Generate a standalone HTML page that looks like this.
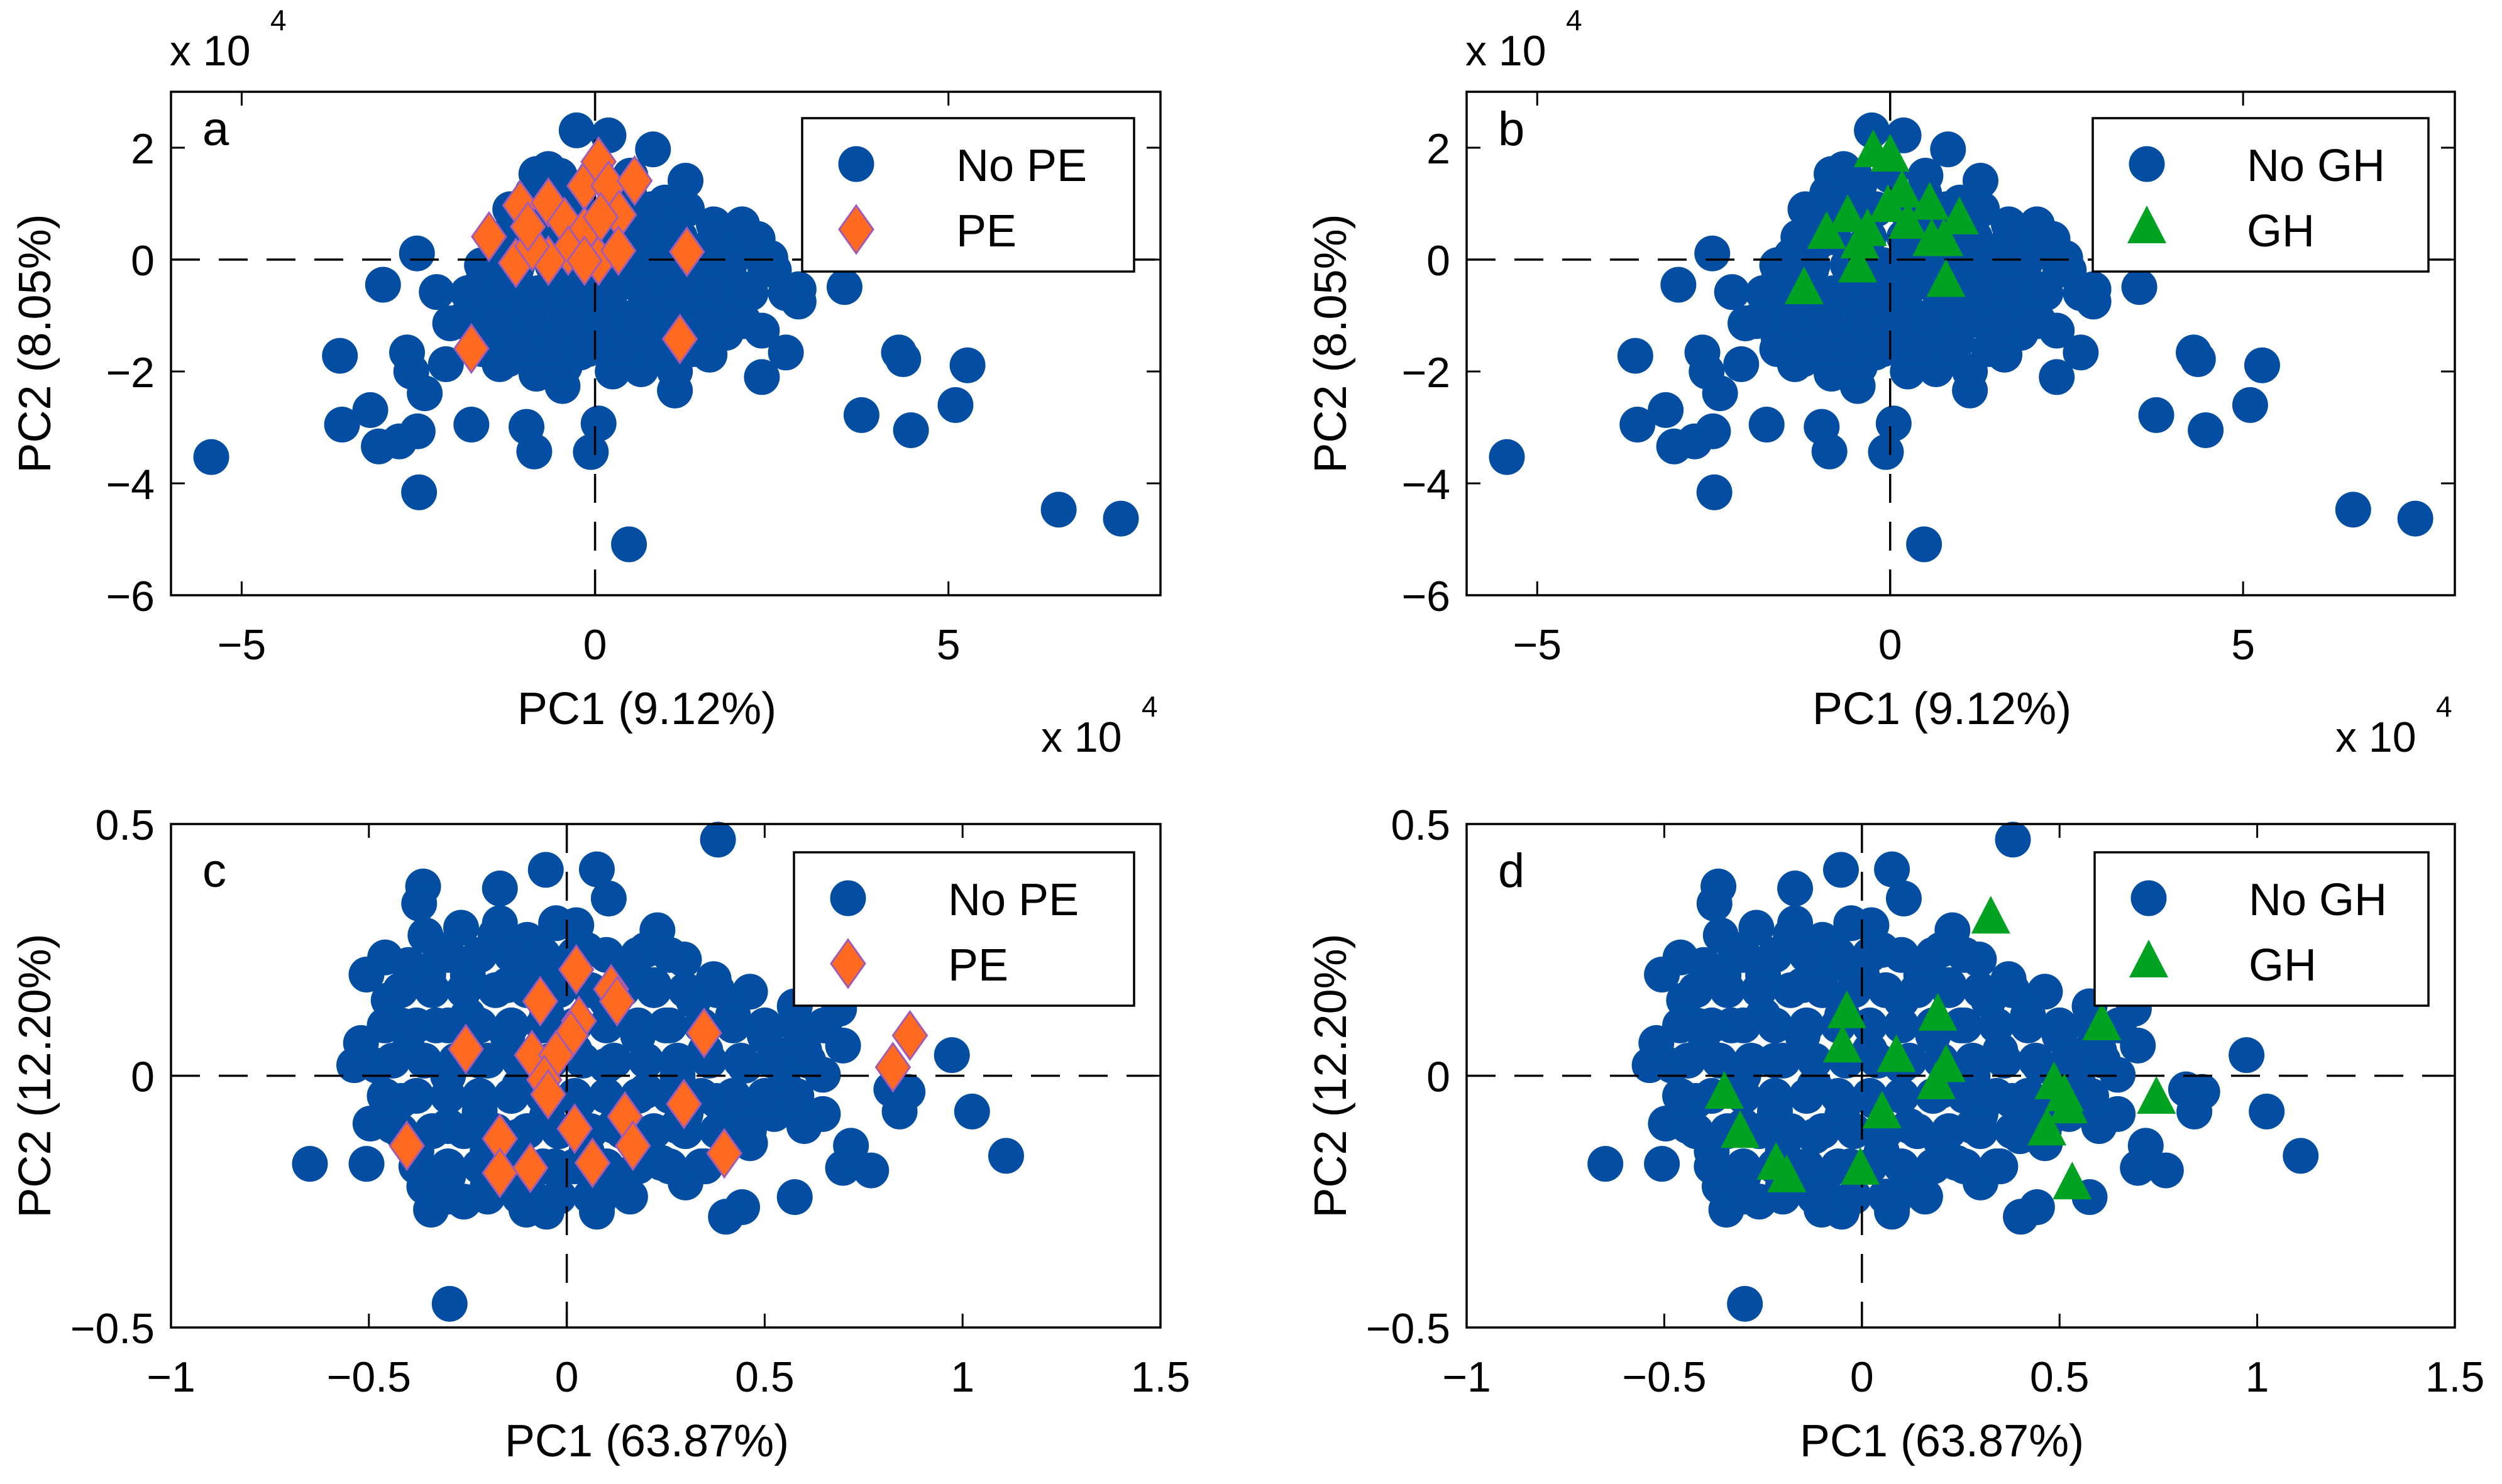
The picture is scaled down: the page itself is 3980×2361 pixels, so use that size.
<!DOCTYPE html>
<html><head><meta charset="utf-8">
<style>
html,body{margin:0;padding:0;background:#fff;}
svg{display:block;}
text{font-family:"Liberation Sans",sans-serif;fill:#000;}
</style></head>
<body>
<svg id="fig" width="3980" height="2361" viewBox="0 0 3980 2361" xmlns="http://www.w3.org/2000/svg"></svg>
<script>
// ---- data ----
const topBlueX = [-5.43,-3.61,-3.58,-3.18,-3.06,-2.77,-2.51,-2.49,-2.41,-2.66,-2.60,-2.52,-3.0,-2.24,-2.11,-1.75,-2.05,-1.75,-0.97,-0.86,0.05,-0.06,0.48,-0.46,-0.83,-1.23,-0.83,-0.26,0.19,0.82,1.28,0.99,1.68,2.08,2.3,2.48,2.88,2.88,3.53,2.7,2.36,2.36,1.85,1.62,1.13,1.13,0.65,0.25,-1.35,-1.4,3.77,4.3,4.36,4.47,5.1,5.27,6.56,7.44,1.16,1.5,0.7,-0.43,-1.0,-1.58,0.25,-0.32,-0.55,0.25,0.94,1.85,1.96,-1.0,0.48,0.94,-0.89,0.48,-1.12,-0.66,-0.21,0.02,0.48,1.28,1.51,-0.43,-1.12,-1.58,-0.21,0.71,1.62,1.05,0.25,-1.35,-0.89,-0.43,0.02,-1.58,-1.12,-0.43,1.51,0.25,2.08,2.19,2.53,0.71,0.94,-0.55,-1.46,0.48,-0.66,-0.43,0.25,0.71,1.05,-0.21,
 -1.2,-0.7,-0.2,0.3,0.8,1.3, -1.3,-0.8,-0.3,0.2,0.7,1.2,1.7,2.2, -1.6,-1.1,-0.6,-0.1,0.4,0.9,1.4,1.9,2.4, -1.8,-1.3,-0.8,-0.3,0.2,0.7,1.2,1.7,2.2,2.7, -1.9,-1.4,-0.9,-0.4,0.1,0.6,1.1,1.6,2.1, -1.6,-1.1,-0.6,-0.1,0.4,0.9,1.4, -0.5,0.0,0.5];
const topBlueY = [-3.53,-1.72,-2.95,-2.69,-3.34,-3.25,-3.07,-4.16,-2.39,-1.66,-2.0,0.11,-0.45,-0.58,-1.87,-2.95,-1.14,-0.66,-2.99,-3.43,-2.93,-3.44,-5.09,-2.26,-2.04,-1.78,1.53,2.31,2.22,1.97,1.41,1.02,0.63,0.63,0.37,0.03,-0.53,-0.75,-0.49,-1.66,-2.1,-1.27,-1.31,-1.7,-2.34,-2.0,-1.96,-2.0,-1.87,0.07,-2.78,-1.66,-1.78,-3.05,-2.6,-1.89,-4.47,-4.63,-0.45,-0.71,-0.97,-0.88,-0.97,-0.88,-0.53,-0.19,-1.4,-1.57,-1.4,-0.36,-0.88,0.33,0.59,0.33,1.19,1.19,-0.53,-0.71,-1.05,-0.88,-1.05,-1.05,-0.19,0.16,-0.19,-1.4,-1.66,-0.02,0.16,0.67,0.33,-1.22,-1.57,-1.91,-1.4,-0.36,0.67,0.84,-1.31,-0.19,0.16,-0.53,-0.19,-0.53,-0.71,-0.36,-0.79,-1.57,1.62,1.36,0.84,0.84,-0.02,-0.53,
 0.9,0.9,0.9,0.9,0.9,0.9, 0.4,0.4,0.4,0.4,0.4,0.4,0.4,0.4, -0.1,-0.1,-0.1,-0.1,-0.1,-0.1,-0.1,-0.1,-0.1, -0.6,-0.6,-0.6,-0.6,-0.6,-0.6,-0.6,-0.6,-0.6,-0.6, -1.1,-1.1,-1.1,-1.1,-1.1,-1.1,-1.1,-1.1,-1.1, -1.6,-1.6,-1.6,-1.6,-1.6,-1.6,-1.6, 1.5,1.5,1.5];
const peTopX = [-1.5,-1.06,-1.12,-0.66,-0.43,-0.15,0.05,0.19,0.56,0.34,-0.15,-0.38,-0.66,-0.89,0.05,0.33,-0.15,1.3,1.2,-1.75,-0.95,0.08];
const peTopY = [0.41,0.97,-0.06,1.02,0.67,1.32,1.75,1.32,1.41,0.8,0.5,0.16,-0.02,0.24,-0.02,0.16,-0.02,0.14,-1.42,-1.59,0.59,0.76];
const ghTopX = [-0.24,0.0,0.17,-0.03,0.56,0.98,-0.6,-0.9,-0.32,-0.43,0.25,0.59,0.76,-0.46,0.79,-1.22];
const ghTopY = [1.9,1.82,1.18,0.92,0.96,0.7,0.74,0.44,0.49,0.27,0.62,0.31,0.31,-0.16,-0.42,-0.55];
const botBlueX = [-0.649,-0.506,-0.296,0.382,-0.053,0.076,0.106,-0.169,-0.363,-0.373,-0.357,-0.267,-0.169,-0.027,0.024,0.229,0.296,0.371,0.463,0.576,0.688,0.698,0.555,0.647,0.61,0.973,0.82,0.861,0.841,1.024,1.11,0.718,0.698,0.769,0.576,0.443,0.402,0.3,0.076,-0.051,-0.102,-0.343,0.127,0.239,-0.496,-0.537,-0.52,-0.506,-0.459,-0.414,0.463,0.524,0.647,0.402,0.3,
 -0.45,-0.4,-0.42,-0.38,-0.35,-0.33,-0.3,-0.3,-0.3,-0.25,-0.25,-0.22,-0.22,-0.2,-0.2,-0.15,-0.15,-0.12,-0.12,-0.1,-0.08,-0.05,-0.05,-0.03,0.0,0.02,0.03,0.05,0.05,0.1,0.1,0.12,0.12,0.15,0.18,0.2,0.2,0.22,0.25,0.28,0.28,0.3,0.32,0.35,0.38,0.4,0.42,0.45,0.48,0.5,0.55,0.6,-0.48,-0.44,-0.36,-0.26,-0.18,-0.1,0.08,0.2,0.35,0.6,0.65,-0.4,-0.32,
 -0.42,-0.34,-0.26,-0.18,-0.1,-0.02,0.06,0.14,0.22,0.3,0.38,
 -0.46,-0.38,-0.3,-0.22,-0.14,-0.06,0.02,0.1,0.18,0.26,0.34,0.42,0.5,0.58,
 -0.44,-0.36,-0.28,-0.2,-0.12,-0.04,0.04,0.12,0.2,0.28,0.36,0.44,0.52,
 -0.46,-0.38,-0.3,-0.22,-0.14,-0.06,0.02,0.1,0.18,0.26,0.34,0.42,0.5,0.58,
 -0.42,-0.34,-0.26,-0.18,-0.1,-0.02,0.06,0.14,0.22,0.3,0.38,0.46,
 -0.38,-0.3,-0.22,-0.14,-0.06,0.02,0.1,0.18,0.26,0.34,
 -0.3,-0.22,-0.14,-0.06,0.02,0.1,0.18,0.26,
 -0.3,-0.2,-0.12,-0.02,0.06,0.16];
const botBlueY = [-0.175,-0.175,-0.453,0.469,0.409,0.41,0.352,0.372,0.376,0.342,0.279,0.294,0.303,0.303,0.299,0.289,0.231,0.192,0.167,0.138,0.133,0.06,0.041,0.002,0.03,0.041,-0.027,-0.032,-0.071,-0.071,-0.159,-0.139,-0.183,-0.188,-0.241,-0.261,-0.28,-0.212,-0.27,-0.27,-0.266,-0.266,-0.212,-0.173,-0.095,0.021,0.065,0.201,0.235,0.099,-0.134,-0.076,-0.076,-0.076,-0.076,
 0.15,0.05,-0.05,-0.15,0.2,0.1,0.0,-0.1,-0.2,0.2,0.12,0.03,-0.07,-0.15,-0.22,0.18,0.08,-0.02,-0.12,-0.22,0.22,0.12,-0.08,-0.18,0.2,0.05,-0.05,-0.15,0.25,0.15,0.02,-0.1,-0.2,0.2,0.08,-0.03,-0.13,0.18,0.1,0.0,-0.1,-0.2,0.15,0.05,-0.05,-0.12,0.12,0.02,-0.08,0.08,-0.02,0.05,0.02,-0.1,-0.22,-0.25,0.28,0.27,-0.25,0.25,-0.18,-0.1,0.1,0.22,0.25,
 0.17,0.17,0.17,0.17,0.17,0.17,0.17,0.17,0.17,0.17,0.17,
 0.1,0.1,0.1,0.1,0.1,0.1,0.1,0.1,0.1,0.1,0.1,0.1,0.1,0.1,
 0.03,0.03,0.03,0.03,0.03,0.03,0.03,0.03,0.03,0.03,0.03,0.03,0.03,
 -0.04,-0.04,-0.04,-0.04,-0.04,-0.04,-0.04,-0.04,-0.04,-0.04,-0.04,-0.04,-0.04,-0.04,
 -0.11,-0.11,-0.11,-0.11,-0.11,-0.11,-0.11,-0.11,-0.11,-0.11,-0.11,-0.11,
 -0.18,-0.18,-0.18,-0.18,-0.18,-0.18,-0.18,-0.18,-0.18,-0.18,
 0.24,0.24,0.24,0.24,0.24,0.24,0.24,0.24,
 -0.24,-0.24,-0.24,-0.24,-0.24,-0.24];
const peBotX = [0.024,-0.067,0.112,0.127,0.031,0.01,0.347,-0.255,-0.088,-0.027,-0.057,-0.047,0.867,0.824,0.296,0.147,0.02,0.167,-0.169,-0.404,-0.169,-0.092,0.065,0.398];
const peBotY = [0.211,0.148,0.172,0.148,0.109,0.08,0.085,0.053,0.041,0.041,-0.008,-0.037,0.08,0.017,-0.056,-0.081,-0.105,-0.139,-0.125,-0.139,-0.193,-0.183,-0.173,-0.154];
const ghBotX = [0.326,-0.038,0.192,0.607,-0.049,0.087,0.213,0.188,0.486,0.512,0.522,0.745,-0.348,-0.308,0.051,0.468,-0.217,-0.19,-0.004,0.532];
const ghBotY = [0.31,0.122,0.117,0.098,0.054,0.035,0.015,-0.019,-0.019,-0.043,-0.067,-0.048,-0.038,-0.116,-0.077,-0.111,-0.179,-0.204,-0.189,-0.218];
const topXTicks = [-5,0,5];
const topYTicks = [-6,-4,-2,0,2];
const botXTicks = [-1,-0.5,0,0.5,1,1.5];
const botYTicks = [-0.5,0,0.5];

const NS = "http://www.w3.org/2000/svg";
const svg = document.getElementById('fig');
const BLUE = "#034ea2", ORANGE = "#ff6a21", EDGE = "#a15ab5", GREEN = "#00a321";
function mk(tag, attrs, parent){ const e=document.createElementNS(NS,tag); for(const k in attrs) e.setAttribute(k,attrs[k]); (parent||svg).appendChild(e); return e; }
function fmt(v){ const s=String(v); return v<0? "\u2212"+s.slice(1) : s; }
function dot(g,cx,cy){ const c=mk('ellipse',{cx:cx,cy:cy,rx:28.5,ry:28.5,fill:BLUE},g);
 
  return c; }
function diamond(g,cx,cy){ const p=mk('polygon',{points:`${cx},${cy-38} ${cx+27},${cy} ${cx},${cy+38} ${cx-27},${cy}`,fill:ORANGE,stroke:EDGE,'stroke-width':3},g);
 
  return p; }
function tri(g,cx,cy){ const p=mk('polygon',{points:`${cx},${cy-38} ${cx+31},${cy+22} ${cx-31},${cy+22}`,fill:GREEN},g);
 
  return p; }

function panel(o){
 const g=mk('g',{});  
 const sx=v=>o.L+(v-o.xmin)/(o.xmax-o.xmin)*(o.R-o.L);
 const sy=v=>o.B-(v-o.ymin)/(o.ymax-o.ymin)*(o.B-o.T);
 const bg=mk('g',{},g);  
 for(let i=0;i<o.bx.length;i++) dot(bg,sx(o.bx[i]),sy(o.by[i]));
 const h=mk('line',{x1:o.L,x2:o.R,y1:sy(0),y2:sy(0),stroke:'#000','stroke-width':3.5,'stroke-dasharray':'46 30'},g);
  
 const v=mk('line',{x1:sx(0),x2:sx(0),y1:o.T,y2:o.B,stroke:'#000','stroke-width':3.5,'stroke-dasharray':'46 30'},g);
  
 const og=mk('g',{},g);  
 for(let i=0;i<o.ox.length;i++) (o.shape==='d'?diamond:tri)(og,sx(o.ox[i]),sy(o.oy[i]));
 const f=mk('rect',{x:o.L,y:o.T,width:o.R-o.L,height:o.B-o.T,fill:'none',stroke:'#000','stroke-width':3.5},g);
  
 const tg=mk('g',{},g);  
 o.xt.forEach(t=>{const x=sx(t);
  mk('line',{x1:x,x2:x,y1:o.B,y2:o.B-22,stroke:'#000','stroke-width':3},tg);
  mk('line',{x1:x,x2:x,y1:o.T,y2:o.T+22,stroke:'#000','stroke-width':3},tg);
  const tx=mk('text',{x:x,y:o.B+102,'font-size':68,'text-anchor':'middle'},tg); tx.textContent=fmt(t);
   });
 const yg=mk('g',{},g);  
 o.yt.forEach(t=>{const y=sy(t);
  mk('line',{x1:o.L,x2:o.L+22,y1:y,y2:y,stroke:'#000','stroke-width':3},yg);
  mk('line',{x1:o.R,x2:o.R-22,y1:y,y2:y,stroke:'#000','stroke-width':3},yg);
  const tx=mk('text',{x:o.L-26,y:y+25,'font-size':68,'text-anchor':'end'},yg); tx.textContent=fmt(t);
   });
 const xl=mk('text',{x:(o.L+o.R)/2-30,y:o.B+205,'font-size':72,'text-anchor':'middle'},g); xl.textContent=o.xlab;
  
 const cy=(o.T+o.B)/2;
 const yl=mk('text',{x:0,y:0,'font-size':72,'text-anchor':'middle',transform:`translate(${o.L-192},${cy}) rotate(-90)`},g); yl.textContent=o.ylab;
  
 const lt=mk('text',{x:o.L+50,y:o.T+(o.top?85:100),'font-size':76},g); lt.textContent=o.letter;
  
 if(o.top){
  const e1=mk('text',{x:o.L-2,y:104,'font-size':68},g); e1.textContent='x 10';
   
  const s1=mk('text',{x:o.L+158,y:48,'font-size':46},g); s1.textContent='4';
   
  const e2=mk('text',{x:o.R-190,y:1196,'font-size':68},g); e2.textContent='x 10';
   
  const s2=mk('text',{x:o.R-30,y:1140,'font-size':46},g); s2.textContent='4';
   
 }
 const lg=mk('g',{},g);  
 const lx0=o.lgL, ly0=o.T+(o.top?42:45), lw=o.R-42-lx0, lh=244;
 mk('rect',{x:lx0,y:ly0,width:lw,height:lh,fill:'#fff',stroke:'#000','stroke-width':3.5},lg);
 const r1=ly0+73, r2=ly0+177, mx=lx0+86;
 const le1=mk('g',{},lg);  
 dot(le1,mx,r1);
 const t1=mk('text',{x:lx0+245,y:r1+27,'font-size':72},le1); t1.textContent=o.name1;
 const le2=mk('g',{},lg);  
 (o.shape==='d'?diamond:tri)(le2,mx,r2);
 const t2=mk('text',{x:lx0+245,y:r2+27,'font-size':72},le2); t2.textContent=o.name2;
}
const TOP={T:146,B:947,xmin:-6,xmax:8,ymin:-6,ymax:3,xt:topXTicks,yt:topYTicks,xlab:'PC1 (9.12%)',ylab:'PC2 (8.05%)',bx:topBlueX,by:topBlueY,top:true};
const BOT={T:1311,B:2112,xmin:-1,xmax:1.5,ymin:-0.5,ymax:0.5,xt:botXTicks,yt:botYTicks,xlab:'PC1 (63.87%)',ylab:'PC2 (12.20%)',bx:botBlueX,by:botBlueY,top:false};
panel(Object.assign({},TOP,{L:272,R:1846,letter:'a',ox:peTopX,oy:peTopY,shape:'d',name1:'No PE',name2:'PE',lgL:1276}));
panel(Object.assign({},TOP,{L:2333,R:3905,letter:'b',ox:ghTopX,oy:ghTopY,shape:'t',name1:'No GH',name2:'GH',lgL:3329}));
panel(Object.assign({},BOT,{L:272,R:1846,letter:'c',ox:peBotX,oy:peBotY,shape:'d',name1:'No PE',name2:'PE',lgL:1263}));
panel(Object.assign({},BOT,{L:2333,R:3905,letter:'d',ox:ghBotX,oy:ghBotY,shape:'t',name1:'No GH',name2:'GH',lgL:3332}));
</script>
</body></html>
